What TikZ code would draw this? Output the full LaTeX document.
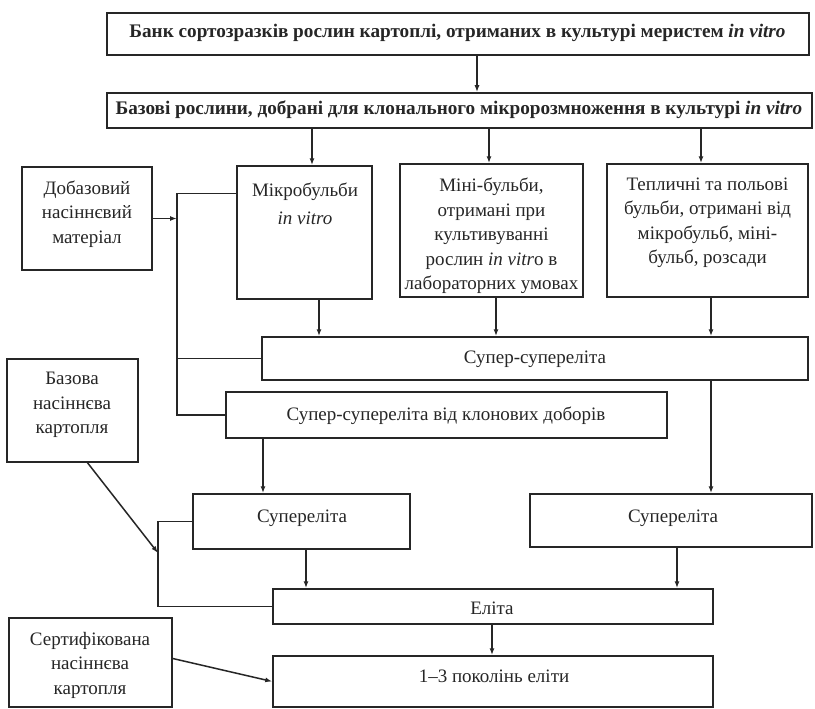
\documentclass[tikz,border=0pt]{standalone}
\usepackage{fontspec}
\setmainfont{Liberation Serif}
\usetikzlibrary{arrows.meta}
\definecolor{ink}{HTML}{262626}
\begin{document}
\begin{tikzpicture}[x=1pt,y=-1pt,
  box/.style={draw=ink,line width=1.5pt,inner sep=0pt,minimum width=#1},
  txt/.style={align=center,inner sep=0pt,text=ink,font=\fontsize{19}{24.5}\selectfont},
  btxt/.style={align=center,inner sep=0pt,text=ink,font=\fontsize{19.2}{22}\selectfont\bfseries},
  conn/.style={draw=ink,line width=1.5pt},
  arr/.style={conn,-{Latex[length=7pt,width=5pt]}}]
\fill[white] (0,0) rectangle (815,709);
\useasboundingbox (0,0) rectangle (815,709);

% boxes
\node[box=702pt,minimum height=42pt] (bank) at (458,34) {};
\node[box=705pt,minimum height=35pt] (base) at (459.5,110.5) {};
\node[box=130pt,minimum height=103pt] (dob) at (87,218.5) {};
\node[box=135pt,minimum height=133pt] (mikro) at (304.5,232.5) {};
\node[box=183pt,minimum height=133pt] (mini) at (491.5,230.5) {};
\node[box=201pt,minimum height=133pt] (tepl) at (707.5,230.5) {};
\node[box=546pt,minimum height=43pt] (ss) at (535,358.5) {};
\node[box=441pt,minimum height=46pt] (sskl) at (446.5,415) {};
\node[box=131pt,minimum height=103pt] (bazova) at (72.5,410.5) {};
\node[box=217pt,minimum height=55pt] (superL) at (301.5,521.5) {};
\node[box=282pt,minimum height=53pt] (superR) at (671,520.5) {};
\node[box=440pt,minimum height=35pt] (elita) at (493,606.5) {};
\node[box=440pt,minimum height=51pt] (gen) at (493,681.5) {};
\node[box=163pt,minimum height=89pt] (cert) at (90.5,662.5) {};

% texts
\node[btxt] (bank-t) at (457.5,33) {Банк сортозразків рослин картоплі, отриманих в культурі меристем \textit{in vitro}};
\node[btxt] (base-t) at (459,110) {Базові рослини, добрані для клонального мікророзмноження в культурі \textit{in vitro}};
\node[txt] (dob-t) at (87,214) {Добазовий\\насіннєвий\\матеріал};
\node[txt] (mikro-t) at (305,204) {Мікробульби\\[3pt]\textit{in vitro}};
\node[txt] (mini-t) at (491.5,236) {Міні-бульби,\\отримані при\\культивуванні\\рослин \textit{in vitr}o в\\лабораторних умовах};
\node[txt] (tepl-t) at (707.5,223) {Тепличні та польові\\бульби, отримані від\\мікробульб, міні-\\бульб, розсади};
\node[txt] (ss-t) at (535,359) {Супер-супереліта};
\node[txt] (sskl-t) at (446,416) {Супер-супереліта від клонових доборів};
\node[txt] (bazova-t) at (72,405) {Базова\\насіннєва\\картопля};
\node[txt] (superL-t) at (302,518) {Супереліта};
\node[txt] (superR-t) at (673,518) {Супереліта};
\node[txt] (elita-t) at (492,608) {Еліта};
\node[txt] (gen-t) at (494,676) {1–3 поколінь еліти};
\node[txt] (cert-t) at (90,665) {Сертифікована\\насіннєва\\картопля};

% column coordinates
\coordinate (c0) at (477,0);
\coordinate (c1) at (312,0);
\coordinate (c2) at (489,0);
\coordinate (c3) at (701,0);
\coordinate (c4) at (319,0);
\coordinate (c5) at (496,0);
\coordinate (c6) at (711,0);
\coordinate (c7) at (263,0);
\coordinate (c8) at (306,0);
\coordinate (c9) at (677,0);
\coordinate (c10) at (492,0);
\coordinate (vx) at (177,0);
\coordinate (hx) at (158,0);
\coordinate (bzend) at (158,553);

% connectors
\draw[arr] (bank.south -| c0) -- (base.north -| c0);
\draw[arr] (base.south -| c1) -- (mikro.north -| c1);
\draw[arr] (base.south -| c2) -- (mini.north -| c2);
\draw[arr] (base.south -| c3) -- (tepl.north -| c3);
\draw[arr] (mikro.south -| c4) -- (ss.north -| c4);
\draw[arr] (mini.south -| c5) -- (ss.north -| c5);
\draw[arr] (tepl.south -| c6) -- (ss.north -| c6);
\draw[conn] ([yshift=-28pt]mikro.north west) -| (sskl.west -| vx) -- (sskl.west);
\draw[conn] (ss.west) -- (ss.west -| vx);
\draw[arr] (dob.east) -- (dob.east -| vx);
\draw[arr] (sskl.south -| c7) -- (superL.north -| c7);
\draw[arr] (ss.south -| c6) -- (superR.north -| c6);
\draw[conn] (superL.west) -| (elita.west -| hx) -- (elita.west);
\draw[arr] ([xshift=15pt]bazova.south) -- (bzend);
\draw[arr] (superL.south -| c8) -- (elita.north -| c8);
\draw[arr] (superR.south -| c9) -- (elita.north -| c9);
\draw[arr] (elita.south -| c10) -- (gen.north -| c10);
\draw[arr] ([yshift=4pt]cert.east) -- (gen.west);
\end{tikzpicture}
\end{document}
